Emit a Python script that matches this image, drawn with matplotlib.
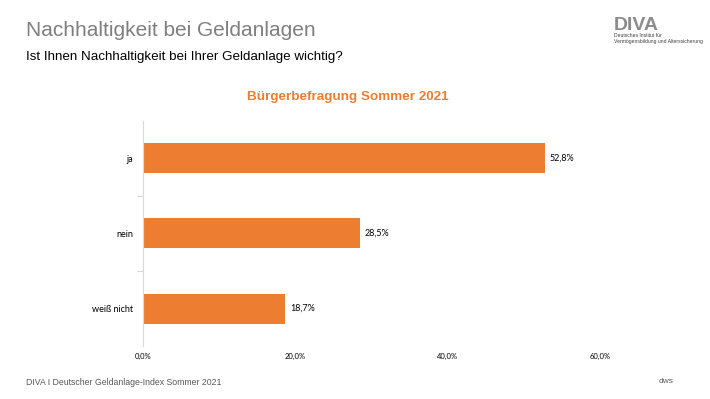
import numpy as np
import matplotlib.pyplot as plt

# survey answers, top to bottom
antworten = ["ja", "nein", "weiß nicht"]
anteile = [52.8, 28.5, 18.7]
wert_labels = ["52,8%", "28,5%", "18,7%"]
x_ticks = [0, 20, 40, 60]
x_ticklabels = ["0,0%", "20,0%", "40,0%", "60,0%"]

orange = "#ED7D31"
grau = "#7f7f7f"

fig = plt.figure(figsize=(7.1, 3.99), dpi=100)
W, H = 710, 399

# axes in pixel coords: left 143, right 600, top 121, bottom 346
ax = fig.add_axes([143 / W, 1 - 346 / H, (600 - 143) / W, (346 - 121) / H])

y = np.arange(len(antworten))
ax.barh(y, anteile, height=0.4, color=orange)
ax.set_ylim(len(antworten) - 0.5, -0.5)
ax.set_xlim(0, 60)

for yi, v, lab in zip(y, anteile, wert_labels):
    ax.text(v + 0.6, yi, lab, va="center", ha="left", fontsize=6.5,
            family="Lato", color="black")

ax.set_yticks(y)
ax.set_yticklabels(antworten, family="Lato", fontsize=6.5)
ax.set_yticks([0.5, 1.5], minor=True)
ax.tick_params(axis="y", which="major", length=0, pad=7)
ax.tick_params(axis="y", which="minor", length=4, color="#d9d9d9", width=0.8)

ax.set_xticks(x_ticks)
ax.set_xticklabels(x_ticklabels, family="Lato", fontsize=5.5)
ax.tick_params(axis="x", length=0, pad=5)

for s in ["top", "right", "bottom"]:
    ax.spines[s].set_visible(False)
ax.spines["left"].set_color("#d9d9d9")
ax.spines["left"].set_linewidth(0.8)

# page texts
fig.text(26 / W, 1 - 36 / H, "Nachhaltigkeit bei Geldanlagen", fontsize=15,
         family="Liberation Sans", color=grau, va="baseline")
fig.text(26 / W, 1 - 60 / H, "Ist Ihnen Nachhaltigkeit bei Ihrer Geldanlage wichtig?",
         fontsize=9.6, family="Liberation Sans", color="black", va="baseline")
fig.text(348 / W, 1 - 97 / H, "Bürgerbefragung Sommer 2021", fontsize=9.7,
         family="Liberation Sans", weight="bold", color=orange,
         ha="center", va="center")
fig.text(26 / W, 1 - 385 / H, "DIVA I Deutscher Geldanlage-Index Sommer 2021",
         fontsize=6.3, family="Liberation Sans", color="#595959", va="baseline")
fig.text(666 / W, 1 - 383 / H, "dws", fontsize=6, family="Liberation Sans",
         color="#595959", ha="center", va="baseline")

# logo
fig.text(614 / W, 1 - 30 / H, "DIVA", fontsize=14, family="Liberation Sans",
         weight="bold", color="#8c8c8c", va="baseline")
fig.text(614 / W, 1 - 37 / H, "Deutsches Institut für", fontsize=3.6,
         family="Liberation Sans", color="#404040", va="baseline")
fig.text(614 / W, 1 - 42.5 / H, "Vermögensbildung und Alterssicherung", fontsize=3.6,
         family="Liberation Sans", color="#404040", va="baseline")

fig.savefig("out.png", dpi=100)
